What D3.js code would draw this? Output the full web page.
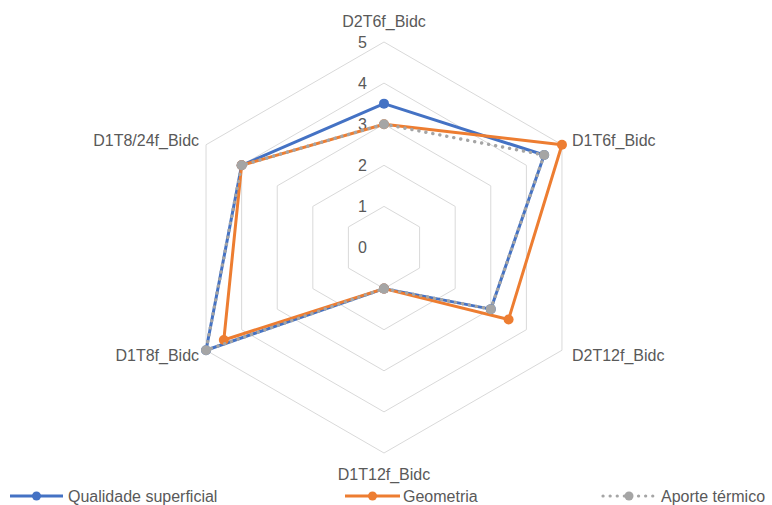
<!DOCTYPE html>
<html>
<head>
<meta charset="utf-8">
<script src="https://cdn.jsdelivr.net/npm/d3@7/dist/d3.min.js"></script>
<style>
  html, body { margin: 0; padding: 0; background: #ffffff; }
  svg { display: block; }
  text { font-family: "Liberation Sans", Arial, sans-serif; fill: #595959; }
</style>
</head>
<body>
<svg id="chart" width="772" height="505"></svg>
<script>
// Radar categories, clockwise from the top axis
const categories = ["D2T6f_Bidc", "D1T6f_Bidc", "D2T12f_Bidc", "D1T12f_Bidc", "D1T8f_Bidc", "D1T8/24f_Bidc"];

// Scores per series, one value per category
const qualidadeSuperficial = [3.5, 4.5, 3, 1, 5, 4];
const geometria = [3, 5, 3.5, 1, 4.5, 4];
const aporteTermico = [3, 4.5, 3, 1, 5, 4];

const seriesNames = ["Qualidade superficial", "Geometria", "Aporte térmico"];
const seriesColors = ["#4472C4", "#ED7D31", "#A5A5A5"];

// Radial axis ticks
const tickValues = [0, 1, 2, 3, 4, 5];

const series = [
  { name: seriesNames[0], values: qualidadeSuperficial, color: seriesColors[0], dotted: false },
  { name: seriesNames[1], values: geometria, color: seriesColors[1], dotted: false },
  { name: seriesNames[2], values: aporteTermico, color: seriesColors[2], dotted: true }
];

const svg = d3.select("#chart");
const cx = 384, cy = 247.5, outerR = 205.5;

const r = d3.scaleLinear().domain([0, 5]).range([0, outerR]);
const angle = d3.scaleLinear().domain([0, categories.length]).range([0, 2 * Math.PI]);

const g = svg.append("g").attr("transform", `translate(${cx},${cy})`);

const px = (i, v) => r(v) * Math.sin(angle(i));
const py = (i, v) => -r(v) * Math.cos(angle(i));

// Hexagonal grid rings
const ringLine = d3.lineRadial()
  .angle((d, i) => angle(i))
  .radius(d => r(d))
  .curve(d3.curveLinearClosed);

g.selectAll("path.ring")
  .data(tickValues.filter(t => t > 0))
  .join("path")
  .attr("class", "ring")
  .attr("d", t => ringLine(categories.map(() => t)))
  .attr("fill", "none")
  .attr("stroke", "#D9D9D9")
  .attr("stroke-width", 1);

// Tick labels along the top axis
g.selectAll("text.tick")
  .data(tickValues)
  .join("text")
  .attr("class", "tick")
  .attr("x", -17)
  .attr("y", t => -r(t))
  .attr("dy", "0.36em")
  .attr("text-anchor", "end")
  .attr("font-size", 16)
  .text(t => t);

// Category labels
g.selectAll("text.cat")
  .data(categories)
  .join("text")
  .attr("class", "cat")
  .attr("font-size", 16)
  .attr("x", (d, i) => {
    const s = Math.sin(angle(i));
    if (Math.abs(s) < 0.01) return 0;
    return px(i, 5) + (s > 0 ? 10 : -7);
  })
  .attr("y", (d, i) => {
    const c = Math.cos(angle(i));
    const s = Math.sin(angle(i));
    if (Math.abs(s) < 0.01) return py(i, 5) + (c > 0 ? -21 : 21);
    return py(i, 5) + (c > 0 ? -5 : 5);
  })
  .attr("dy", "0.36em")
  .attr("text-anchor", (d, i) => {
    const s = Math.sin(angle(i));
    if (Math.abs(s) < 0.01) return "middle";
    return s > 0 ? "start" : "end";
  })
  .text(d => d);

// Series polygons and markers
const seriesLine = d3.lineRadial()
  .angle((d, i) => angle(i))
  .radius(d => r(d))
  .curve(d3.curveLinearClosed);

series.forEach(s => {
  const sg = g.append("g");
  sg.append("path")
    .attr("d", seriesLine(s.values))
    .attr("fill", "none")
    .attr("stroke", s.color)
    .attr("stroke-width", s.dotted ? 3.4 : 3)
    .attr("stroke-linejoin", "round")
    .attr("stroke-linecap", s.dotted ? "round" : "butt")
    .attr("stroke-dasharray", s.dotted ? "0.1,7" : null);
  sg.selectAll("circle")
    .data(s.values)
    .join("circle")
    .attr("cx", (v, i) => px(i, v))
    .attr("cy", (v, i) => py(i, v))
    .attr("r", 5)
    .attr("fill", s.color);
});

// Legend
const legendItems = [
  { x1: 10, x2: 63, tx: 68 },
  { x1: 345, x2: 400, tx: 403 },
  { x1: 603, x2: 655, tx: 661 }
];
const ly = 496;
series.forEach((s, k) => {
  const li = legendItems[k];
  const lg = svg.append("g");
  lg.append("line")
    .attr("x1", li.x1).attr("x2", li.x2)
    .attr("y1", ly).attr("y2", ly)
    .attr("stroke", s.color)
    .attr("stroke-width", s.dotted ? 3.2 : 3)
    .attr("stroke-linecap", s.dotted ? "round" : "butt")
    .attr("stroke-dasharray", s.dotted ? "0.1,7" : null);
  lg.append("circle")
    .attr("cx", (li.x1 + li.x2) / 2)
    .attr("cy", ly)
    .attr("r", 4.5)
    .attr("fill", s.color);
  lg.append("text")
    .attr("x", li.tx)
    .attr("y", ly)
    .attr("dy", "0.36em")
    .attr("font-size", 16)
    .text(s.name);
});
</script>
</body>
</html>
